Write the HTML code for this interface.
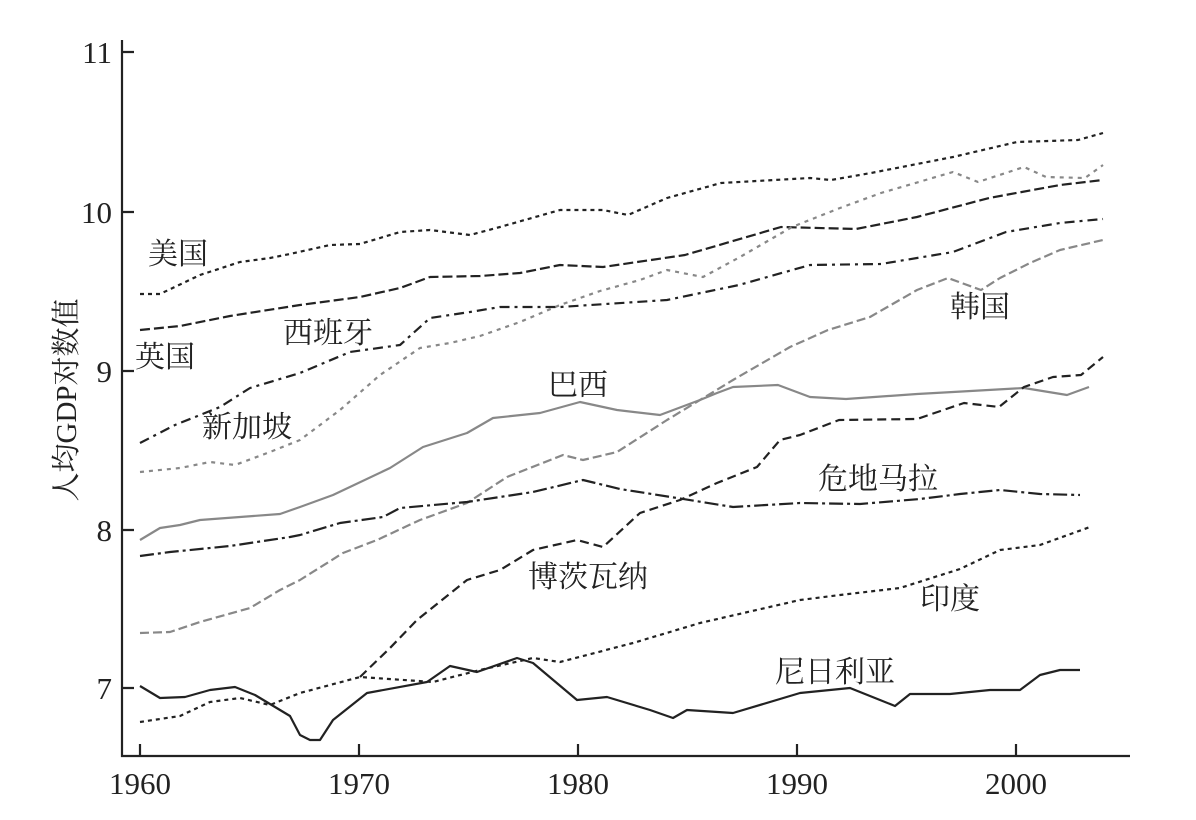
<!DOCTYPE html>
<html><head><meta charset="utf-8"><style>body{margin:0;background:#fff}</style></head><body>
<svg width="1196" height="815" viewBox="0 0 1196 815" xmlns="http://www.w3.org/2000/svg" font-family="Liberation Serif, Noto Serif CJK SC, serif">
<rect width="1196" height="815" fill="#fff"/>
<g stroke="#222" stroke-width="2.2" fill="none">
<path d="M122 40 V756 H1130"/>
<path d="M122 52 h12 M122 212 h12 M122 371 h12 M122 530 h12 M122 688 h12"/>
<path d="M140 756 v-12 M359 756 v-12 M578 756 v-12 M797 756 v-12 M1016 756 v-12"/>
</g>
<g font-size="31" fill="#222" text-anchor="end">
<text x="112" y="63">11</text><text x="112" y="223">10</text><text x="112" y="382">9</text><text x="112" y="541">8</text><text x="112" y="699">7</text>
</g>
<g font-size="31" fill="#222" text-anchor="middle">
<text x="140" y="794">1960</text><text x="359" y="794">1970</text><text x="578" y="794">1980</text><text x="797" y="794">1990</text><text x="1016" y="794">2000</text>
</g>
<text transform="translate(76,400) rotate(-90)" font-size="29" fill="#222" text-anchor="middle">人均GDP对数值</text>
<g fill="none" stroke-linejoin="round" stroke-width="2.2">
<polyline stroke="#222" stroke-dasharray="4 4" points="140,294 160,294 200,275 240,262 270,258 290,254 330,245 360,244 400,232 430,230 470,235 500,227 560,210 603,210 628,215 667,198 721,183 810,178 831,180 871,173 953,157 1017,142 1078,140 1103,133"/>
<polyline stroke="#222" stroke-dasharray="10 4" points="140,330 180,326 230,316 300,305 360,297 400,288 430,277 480,276 520,273 560,265 603,267 685,255 781,227 856,229 917,217 989,198 1060,185 1103,180"/>
<polyline stroke="#222" stroke-dasharray="10 5 3 5" points="140,443 175,425 220,407 250,388 300,373 350,352 400,345 430,318 470,312 500,307 560,307 667,300 739,285 810,265 881,264 953,252 1006,232 1060,223 1103,219"/>
<polyline stroke="#888" stroke-dasharray="4 5" points="140,472 180,468 210,462 235,465 270,452 300,440 340,410 380,375 420,348 450,343 480,336 520,322 560,305 600,291 640,280 667,270 703,277 740,257 792,227 840,208 881,193 953,172 978,182 1024,167 1046,177 1085,178 1103,165"/>
<polyline stroke="#888" stroke-dasharray="9 4" points="140,633 170,632 200,622 250,608 280,590 300,580 343,553 377,540 420,520 467,503 507,477 563,455 583,460 617,452 667,420 733,380 790,347 828,330 870,317 917,290 948,278 981,290 1000,278 1030,263 1060,250 1103,240"/>
<polyline stroke="#888" points="140,540 160,528 180,525 200,520 240,517 280,514 300,507 333,495 390,468 423,447 467,433 493,418 540,413 580,402 617,410 660,415 700,400 717,393 733,387 778,385 810,397 846,399 917,394 953,392 1024,388 1067,395 1089,387"/>
<polyline stroke="#222" stroke-dasharray="14 4 3 4" points="140,556 170,552 230,546 290,537 300,535 340,523 383,517 400,508 467,502 533,492 583,480 620,489 677,498 733,507 800,503 860,504 920,499 960,494 1000,490 1040,494 1080,495"/>
<polyline stroke="#222" stroke-dasharray="9 5" points="360,677 390,648 417,620 467,580 500,570 533,550 577,540 603,547 640,513 680,500 717,483 757,467 780,440 800,435 839,420 917,419 964,403 999,407 1024,387 1053,377 1081,375 1103,357"/>
<polyline stroke="#222" stroke-dasharray="4 4" points="140,722 180,716 210,702 240,698 270,705 300,693 360,677 433,682 480,670 533,658 560,662 633,643 700,623 800,600 840,595 900,588 960,569 1000,550 1040,545 1090,527"/>
<polyline stroke="#222" points="140,686 160,698 185,697 210,690 235,687 255,695 290,716 300,735 310,740 320,740 333,720 367,693 427,682 450,666 477,672 517,658 533,663 577,700 607,697 650,710 673,718 687,710 733,713 800,693 850,688 880,700 895,706 910,694 950,694 990,690 1020,690 1040,675 1060,670 1080,670"/>
</g>
<g font-size="30" fill="#222" font-family="Noto Serif CJK SC, serif">
<text x="148" y="264">美国</text>
<text x="135" y="367">英国</text>
<text x="283" y="343">西班牙</text>
<text x="202" y="437">新加坡</text>
<text x="548" y="395">巴西</text>
<text x="950" y="317">韩国</text>
<text x="818" y="489">危地马拉</text>
<text x="528" y="587">博茨瓦纳</text>
<text x="920" y="609">印度</text>
<text x="775" y="682">尼日利亚</text>
</g>
</svg>
</body></html>
